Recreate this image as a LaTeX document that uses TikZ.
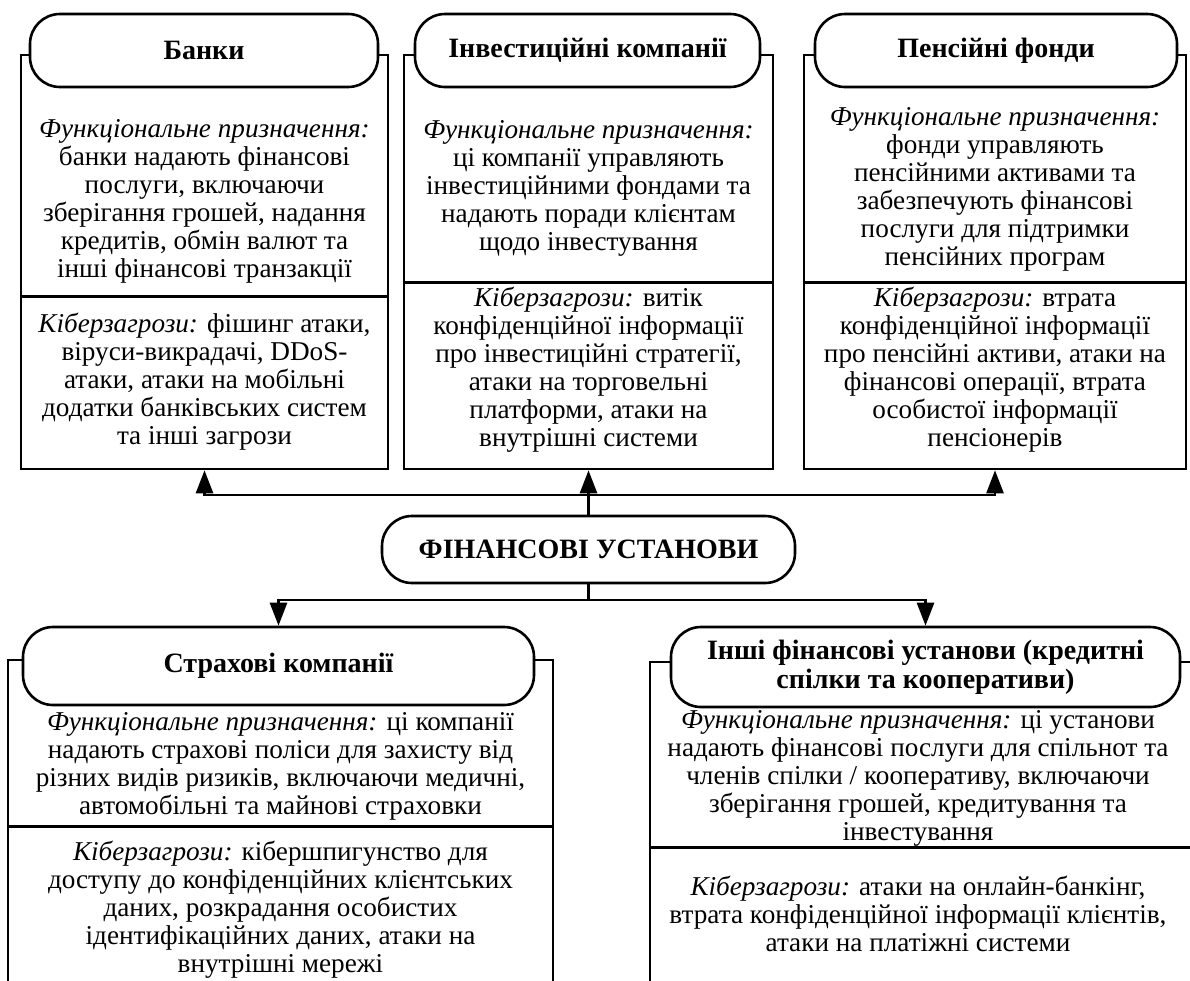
\documentclass[tikz,border=0pt]{standalone}
\usepackage{fontspec}
\setmainfont{Liberation Serif}
\usetikzlibrary{arrows.meta}
\begin{document}
\begin{tikzpicture}[x=1pt,y=-1pt,line width=2.6pt,
  frame/.style={draw,rectangle,inner sep=0pt},
  pill/.style={draw,fill=white,rounded corners=30pt,inner sep=0pt,align=center,
    font=\fontsize{28}{29}\selectfont\bfseries},
  body/.style={align=center,inner sep=0pt,font=\fontsize{27.2}{28}\selectfont},
  arr/.style={-{Triangle[width=17pt,length=23pt]}},
]
\clip (0,0) rectangle (1190,980);

% frames
\node[frame,minimum width=367pt,minimum height=414pt] (r1) at (204.5,262) {};
\node[frame,minimum width=369pt,minimum height=414pt] (r2) at (588.5,262) {};
\node[frame,minimum width=382pt,minimum height=414pt] (r3) at (995,262) {};
\node[frame,minimum width=545pt,minimum height=340pt] (r4) at (280.5,830) {};
\node[frame,minimum width=550pt,minimum height=338pt] (r5) at (925,831) {};

% dividers
\draw ([yshift=-243pt]r1.north west) -- ([yshift=-243pt]r1.north east);
\draw ([yshift=-229pt]r2.north west) -- ([yshift=-229pt]r2.north east);
\draw ([yshift=-229pt]r3.north west) -- ([yshift=-229pt]r3.north east);
\draw ([yshift=-168pt]r4.north west) -- ([yshift=-168pt]r4.north east);
\draw ([yshift=-187pt]r5.north west) -- ([yshift=-187pt]r5.north east);

% headers
\node[pill,minimum width=348pt,minimum height=73pt] (p1) at (204,50.5) {Банки};
\node[pill,minimum width=345pt,minimum height=73pt] (p2) at (587.5,50.5) {Інвестиційні компанії};
\node[pill,minimum width=362pt,minimum height=73pt] (p3) at (996,50.5) {Пенсійні фонди};
\node[pill,minimum width=413pt,minimum height=67pt] (c) at (588.5,549.5) {ФІНАНСОВІ УСТАНОВИ};
\node[pill,minimum width=511pt,minimum height=78pt] (p4) at (278.5,666) {Страхові компанії};
\node[pill,minimum width=509pt,minimum height=80pt] (p5) at (925.5,667) {Інші фінансові установи (кредитні\\спілки та кооперативи)};

% texts
\node[body] (t1a) at (204.5,201) {\textit{Функціональне призначення:}\\ банки надають фінансові\\ послуги, включаючи\\ зберігання грошей, надання\\ кредитів, обмін валют та\\ інші фінансові транзакції};
\node[body] (t1b) at (204.5,382) {\textit{Кіберзагрози:} фішинг атаки,\\ віруси-викрадачі, DDoS-\\ атаки, атаки на мобільні\\ додатки банківських систем\\ та інші загрози};
\node[body] (t2a) at (588.5,188) {\textit{Функціональне призначення:}\\ ці компанії управляють\\ інвестиційними фондами та\\ надають поради клієнтам\\ щодо інвестування};
\node[body] (t2b) at (588.5,370) {\textit{Кіберзагрози:} витік\\ конфіденційної інформації\\ про інвестиційні стратегії,\\ атаки на торговельні\\ платформи, атаки на\\ внутрішні системи};
\node[body] (t3a) at (995,189) {\textit{Функціональне призначення:}\\ фонди управляють\\ пенсійними активами та\\ забезпечують фінансові\\ послуги для підтримки\\ пенсійних програм};
\node[body] (t3b) at (995,370) {\textit{Кіберзагрози:} втрата\\ конфіденційної інформації\\ про пенсійні активи, атаки на\\ фінансові операції, втрата\\ особистої інформації\\ пенсіонерів};
\node[body] (t4a) at (280.5,766) {\textit{Функціональне призначення:} ці компанії\\ надають страхові поліси для захисту від\\ різних видів ризиків, включаючи медичні,\\ автомобільні та майнові страховки};
\node[body] (t4b) at (280.5,910) {\textit{Кіберзагрози:} кібершпигунство для\\ доступу до конфіденційних клієнтських\\ даних, розкрадання особистих\\ ідентифікаційних даних, атаки на\\ внутрішні мережі};
\node[body] (t5a) at (918,778) {\textit{Функціональне призначення:} ці установи\\ надають фінансові послуги для спільнот та\\ членів спілки / кооперативу, включаючи\\ зберігання грошей, кредитування та\\ інвестування};
\node[body] (t5b) at (918,914) {\textit{Кіберзагрози:} атаки на онлайн-банкінг,\\ втрата конфіденційної інформації клієнтів,\\ атаки на платіжні системи};

% connectors
\coordinate (jt) at (588.5,495);
\coordinate (jb) at (588.5,600);
\draw (c.north) -- (jt);
\draw[arr] (jt) -| (r1.south);
\draw[arr] (jt) -- (r2.south);
\draw[arr] (jt) -| (r3.south);
\draw (c.south) -- (jb);
\draw[arr] (jb) -| (p4.north);
\draw[arr] (jb) -| (p5.north);
\end{tikzpicture}
\end{document}
